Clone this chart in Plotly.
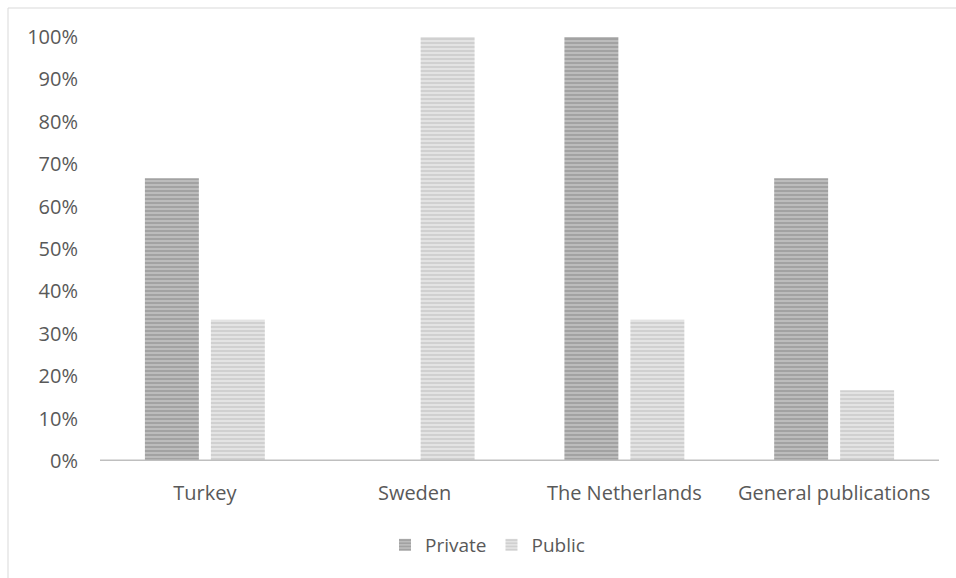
import plotly.graph_objects as go

categories = ["Turkey", "Sweden", "The Netherlands", "General publications"]
private = [0.6667, 0.0, 1.0, 0.6667]
public = [0.3333, 1.0, 0.3333, 0.1667]
y_ticks = [0, 0.1, 0.2, 0.3, 0.4, 0.5, 0.6, 0.7, 0.8, 0.9, 1.0]

W, H = 956, 578
L, R, T, B = 100, 17, 37, 117
pw, ph = W - L - R, H - T - B

fig = go.Figure()
fig.add_trace(go.Bar(
    name="Private", x=categories, y=private,
    marker=dict(color="#b0b0b0", line=dict(width=0),
                pattern=dict(shape="-", fgcolor="#888888", bgcolor="#bcbcbc",
                             size=4, solidity=0.5)),
))
fig.add_trace(go.Bar(
    name="Public", x=categories, y=public,
    marker=dict(color="#d6d6d6", line=dict(width=0),
                pattern=dict(shape="-", fgcolor="#bdbdbd", bgcolor="#e3e3e3",
                             size=4, solidity=0.5)),
))

font = "Open Sans, Lato, sans-serif"
fig.update_layout(
    width=W, height=H,
    margin=dict(l=L, r=R, t=T, b=B),
    paper_bgcolor="white", plot_bgcolor="white",
    barmode="group", bargap=0.371, bargroupgap=0.182,
    font=dict(family=font, size=20, color="#595959"),
    showlegend=True,
    legend=dict(orientation="h", xanchor="left", x=(385 - L) / pw,
                yanchor="middle", y=-(545 - (T + ph)) / ph,
                font=dict(size=19, color="#595959"),
                itemwidth=30, traceorder="normal"),
    xaxis=dict(showgrid=False, zeroline=False, showline=False,
               ticks="outside", ticklen=14, tickcolor="rgba(0,0,0,0)",
               tickfont=dict(size=20, color="#595959")),
    yaxis=dict(range=[0, 1.0], tickvals=y_ticks, tickformat=".0%",
               showgrid=False, zeroline=False, showline=False,
               ticks="outside", ticklen=17, tickcolor="rgba(0,0,0,0)",
               tickfont=dict(size=20, color="#595959")),
    shapes=[
        dict(type="line", xref="paper", yref="y", x0=0, x1=1, y0=0, y1=0,
             line=dict(color="#bfbfbf", width=3), layer="above"),
        dict(type="rect", xref="paper", yref="paper",
             x0=(8 - L) / pw, x1=(W + 20 - L) / pw,
             y0=-(H + 20 - (T + ph)) / ph, y1=((T + ph) - 8) / ph,
             line=dict(color="#d9d9d9", width=1), fillcolor="rgba(0,0,0,0)"),
    ],
)

fig.write_html("out.html")
